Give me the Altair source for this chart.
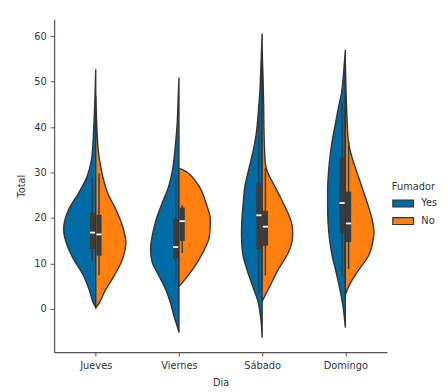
import altair as alt
import pandas as pd

dias = ["Jueves", "Viernes", "Sábado", "Domingo"]
fumador = ["Yes", "No"]
colores = ["#006BA4", "#FF800E"]

# Violin half profiles: value (Total) and half-width (in category units)
jue_yes_val = [52.7, 45, 40, 36, 32.6, 29, 25.4, 21.8, 17.5, 13.9, 11, 7.4, 3.8, 0.9, 0.4]
jue_yes_w = [0, 0.012, 0.024, 0.035, 0.053, 0.106, 0.209, 0.327, 0.386, 0.342, 0.268, 0.150, 0.071, 0.018, 0]
jue_no_val = [47, 42, 38, 35, 32.6, 29, 25.4, 21.8, 18.2, 14.6, 11, 7.4, 3.8, 0.9, 0.3]
jue_no_w = [0, 0.009, 0.018, 0.030, 0.047, 0.086, 0.145, 0.244, 0.322, 0.362, 0.322, 0.224, 0.106, 0.027, 0]

vie_yes_val = [50.9, 45, 40, 37.6, 34, 30.4, 26.8, 23.2, 19.6, 16, 13.2, 10.3, 7.4, 4.5, 1.6, -1.9, -4, -5.2]
vie_yes_w = [0, 0.012, 0.024, 0.035, 0.053, 0.079, 0.126, 0.204, 0.275, 0.322, 0.342, 0.322, 0.244, 0.165, 0.106, 0.055, 0.018, 0]
vie_no_val = [30.9, 30.6, 29.8, 28.5, 26.8, 23.2, 19.6, 16, 12.4, 8.8, 6, 5.3, 5]
vie_no_w = [0, 0.047, 0.118, 0.183, 0.248, 0.327, 0.378, 0.366, 0.287, 0.169, 0.051, 0.018, 0]

sab_yes_val = [60.6, 52, 48, 44.9, 37.6, 34, 30.4, 26.8, 23.2, 19.6, 16, 12.4, 8.8, 5.2, 1.7, -1.9, -6.3]
sab_yes_w = [0, 0.018, 0.027, 0.039, 0.079, 0.118, 0.165, 0.209, 0.228, 0.244, 0.248, 0.236, 0.185, 0.118, 0.051, 0.018, 0]
sab_no_val = [57, 52, 45, 37.6, 31.9, 30.4, 26.8, 23.2, 19.6, 17.5, 16, 12.4, 8.8, 5.2, 3.1, 1.7]
sab_no_w = [0, 0.009, 0.018, 0.024, 0.039, 0.059, 0.157, 0.256, 0.342, 0.366, 0.366, 0.315, 0.197, 0.098, 0.039, 0]

dom_yes_val = [57, 52, 47.7, 44.1, 40.5, 36.9, 33.3, 29.7, 26.1, 22.5, 19, 15.3, 11.7, 8.2, 4.5, 0.9, -4.1]
dom_yes_w = [0, 0.021, 0.045, 0.085, 0.122, 0.159, 0.186, 0.204, 0.213, 0.213, 0.208, 0.190, 0.159, 0.113, 0.068, 0.031, 0]
dom_no_val = [54, 45, 41.9, 36.9, 33.3, 29.7, 26.1, 22.5, 19, 16.8, 15.3, 11.7, 8.2, 5.3, 3.1]
dom_no_w = [0, 0.013, 0.020, 0.036, 0.080, 0.146, 0.212, 0.278, 0.330, 0.344, 0.335, 0.278, 0.146, 0.049, 0]

# Inner box statistics per day (Yes / No): whisker low, q1, median, q3, whisker high
yes_wl = [10.4, 5.8, 3.1, 7.3]
yes_q1 = [13.2, 11.2, 13.2, 16.8]
yes_med = [16.8, 13.6, 20.6, 23.3]
yes_q3 = [21.1, 19.8, 27.6, 33.3]
yes_wh = [29.0, 29.4, 45.0, 45.4]
no_wl = [7.4, 12.3, 7.4, 8.8]
no_q1 = [11.7, 15.0, 13.9, 14.7]
no_med = [16.4, 19.3, 18.1, 18.8]
no_q3 = [20.7, 22.3, 21.6, 25.8]
no_wh = [29.8, 22.8, 31.0, 37.0]

perfiles = {
    ("Jueves", "Yes"): (jue_yes_val, jue_yes_w),
    ("Jueves", "No"): (jue_no_val, jue_no_w),
    ("Viernes", "Yes"): (vie_yes_val, vie_yes_w),
    ("Viernes", "No"): (vie_no_val, vie_no_w),
    ("Sábado", "Yes"): (sab_yes_val, sab_yes_w),
    ("Sábado", "No"): (sab_no_val, sab_no_w),
    ("Domingo", "Yes"): (dom_yes_val, dom_yes_w),
    ("Domingo", "No"): (dom_no_val, dom_no_w),
}

rows = []
for (dia, fum), (vals, ws) in perfiles.items():
    c = dias.index(dia)
    for v, w in zip(vals, ws):
        if fum == "Yes":
            lo, hi = c - w, c
        else:
            lo, hi = c, c + w
        rows.append({"grp": dia + fum, "fum": fum, "val": v, "lo": lo, "hi": hi})
vdf = pd.DataFrame(rows)

brows = []
for i, dia in enumerate(dias):
    for fum, wl, q1, med, q3, wh in [
        ("Yes", yes_wl[i], yes_q1[i], yes_med[i], yes_q3[i], yes_wh[i]),
        ("No", no_wl[i], no_q1[i], no_med[i], no_q3[i], no_wh[i]),
    ]:
        s = -1 if fum == "Yes" else 1
        a, b = i + s * 0.008, i + s * 0.070
        brows.append({"fum": fum, "b0": min(a, b), "b1": max(a, b), "wx": i + s * 0.039,
                      "wl": wl, "q1": q1, "med": med, "q3": q3, "wh": wh})
bdf = pd.DataFrame(brows)

FONT = "DejaVu Sans"
TXT = "#333333"
AX = "#555555"
EDGE = "#333333"
label_expr = "[" + ",".join("'" + d + "'" for d in dias) + "][datum.value]"

xscale = alt.Scale(domain=[-0.5, 3.5], nice=False, zero=False)
yscale = alt.Scale(domain=[-9.5, 63.7], nice=False, zero=False)
xaxis = alt.Axis(values=[0, 1, 2, 3], labelExpr=label_expr, grid=False, tickSize=4,
                 labelPadding=5, titlePadding=7, title="Dia")
yaxis = alt.Axis(values=[0, 10, 20, 30, 40, 50, 60], grid=False, tickSize=4,
                 labelPadding=4, titlePadding=7, title="Total")

violins = alt.Chart(vdf).mark_area(
    orient="horizontal", interpolate="monotone", stroke=EDGE, strokeWidth=1.4,
    fillOpacity=1,
).encode(
    y=alt.Y("val:Q", scale=yscale, axis=yaxis),
    x=alt.X("lo:Q", scale=xscale, axis=xaxis),
    x2="hi:Q",
    fill=alt.Fill("fum:N", scale=alt.Scale(domain=fumador, range=colores),
                  legend=alt.Legend(
                      title="Fumador", orient="none", legendX=344, legendY=166,
                      symbolType="M-1,-0.33H1V0.33H-1Z", symbolSize=441,
                      symbolStrokeColor=EDGE, symbolStrokeWidth=1.2,
                      symbolOpacity=1, labelOffset=7, rowPadding=-6,
                      titleFontWeight="normal", titleFontSize=10, labelFontSize=10,
                      titlePadding=0, padding=0, labelFont=FONT, titleFont=FONT,
                      labelColor=TXT, titleColor=TXT)),
    detail="grp:N",
)

whiskers = alt.Chart(bdf).mark_rule(color="#3b3b3b", strokeWidth=1.5).encode(
    x=alt.X("wx:Q", scale=xscale), y=alt.Y("wl:Q", scale=yscale), y2="wh:Q")
boxes = alt.Chart(bdf).mark_rect(color="#3b3b3b").encode(
    x=alt.X("b0:Q", scale=xscale), x2="b1:Q", y=alt.Y("q1:Q", scale=yscale), y2="q3:Q")
medians = alt.Chart(bdf).mark_rule(color="white", strokeWidth=1.8).encode(
    x=alt.X("b0:Q", scale=xscale), x2="b1:Q", y=alt.Y("med:Q", scale=yscale))

chart = alt.layer(violins, whiskers, boxes, medians).properties(
    width=339, height=339,
    autosize=alt.AutoSizeParams(type="none"),
    padding={"left": 47, "top": 8, "right": 53, "bottom": 34},
).configure_view(stroke=None).configure_axis(
    labelFont=FONT, titleFont=FONT, labelFontSize=10, titleFontSize=10,
    titleFontWeight="normal", labelColor=TXT, titleColor=TXT,
    domainColor=AX, tickColor=AX, domainWidth=1.2, tickWidth=1,
)

chart.save("out.html", embed_options={"renderer": "svg", "actions": False})
